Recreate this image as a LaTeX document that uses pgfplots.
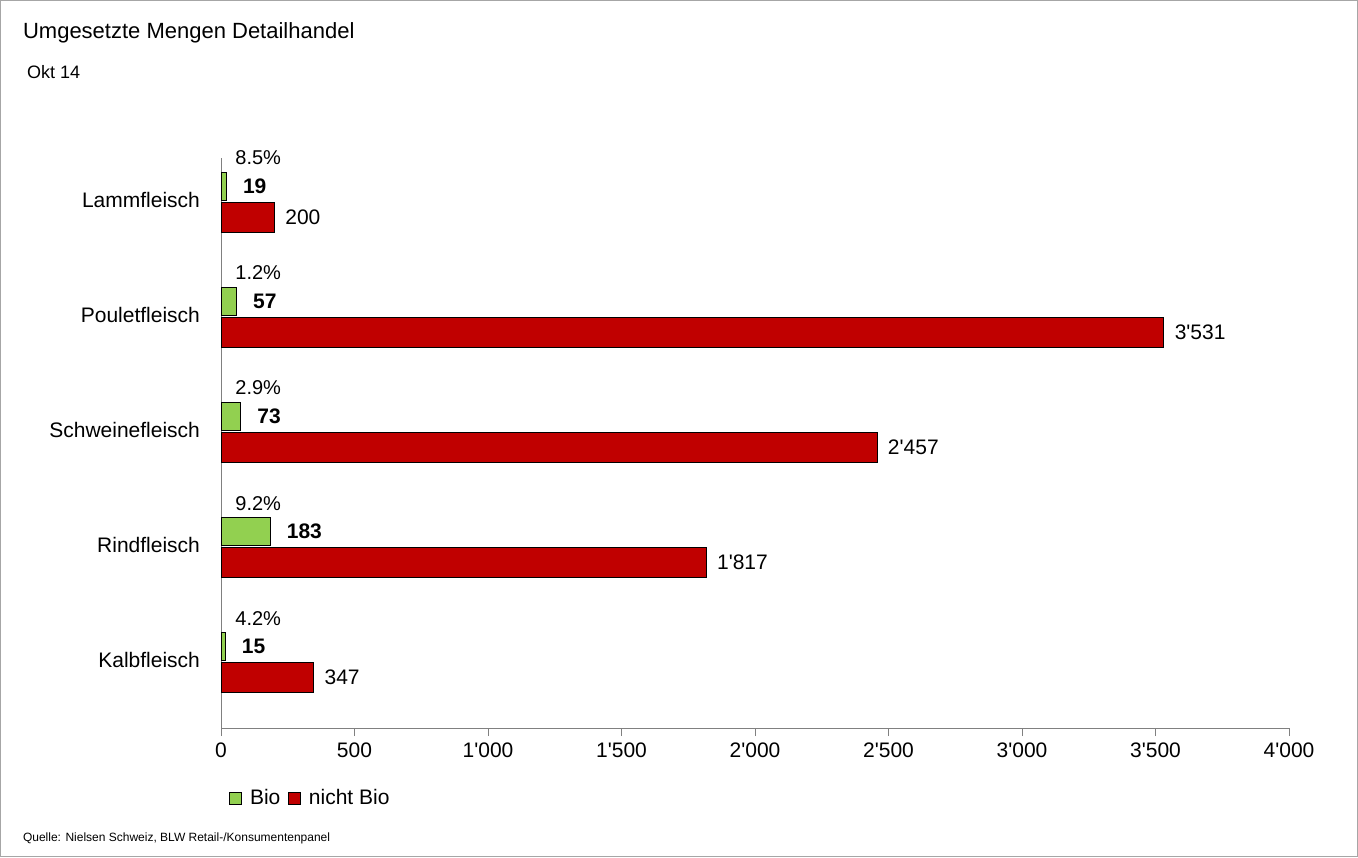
\documentclass[border=0pt]{standalone}
\usepackage{pgfplots}
\pgfplotsset{compat=1.18}
\usepackage{fontspec}
\setmainfont{Liberation Sans}
\definecolor{bio}{RGB}{146,208,80}
\definecolor{nbio}{RGB}{192,0,0}
\begin{document}
\begin{tikzpicture}[font=\fontsize{10.5}{12}\selectfont]
\useasboundingbox (0,0) rectangle (679pt,-428.5pt);
\draw[gray!70,line width=0.6pt] (0.3pt,-0.3pt) rectangle (678.7pt,-428.2pt);
\node[anchor=west,font=\fontsize{11}{13}\selectfont] at (8pt,-16.5pt) {Umgesetzte Mengen Detailhandel};
\node[anchor=west,font=\fontsize{9}{11}\selectfont] at (10pt,-36pt) {Okt 14};
\node[anchor=west,font=\fontsize{6}{7}\selectfont] at (8pt,-419pt) {Quelle: Nielsen Schweiz, BLW Retail-/Konsumentenpanel};
\begin{axis}[
  at={(110.5pt,-364pt)}, anchor=south west,
  width=534pt, height=285pt, scale only axis,
  xmin=0, xmax=4000, ymin=-0.59, ymax=4.365,
  axis lines*=left, axis line style={gray},
  xtick={0,500,...,4000}, xtick style={gray},
  tick align=outside, major tick length=4pt,
  ytick={0,1,2,3,4},
  yticklabels={Kalbfleisch,Rindfleisch,Schweinefleisch,Pouletfleisch,Lammfleisch},
  ytick style={draw=none},
  yticklabel style={xshift=-3pt},
  /pgf/number format/1000 sep={\textquotesingle},
  /pgf/number format/assume math mode=true,
  ticklabel style={font=\fontsize{10.5}{12}\selectfont},
  legend style={at={(0.0075,-0.123)}, anchor=west, draw=none, legend columns=2,
    font=\fontsize{10.5}{12}\selectfont, column sep=2pt, inner sep=0pt},
  legend image code/.code={\draw[#1,draw=black,line width=0.3pt] (0pt,-3pt) rectangle (6pt,3pt);},
  clip=false,
]
\addplot[xbar, bar width=14pt, fill=bio, draw=black, line width=0.3pt,
  nodes near coords, point meta=explicit symbolic,
  every node near coord/.append style={anchor=west, xshift=5pt, font=\fontsize{10.5}{12}\selectfont\bfseries}]
  coordinates {(19,4.12)[19] (57,3.12)[57] (73,2.12)[73] (183,1.12)[183] (15,0.12)[15]};
\addlegendentry{Bio}
\addplot[xbar, bar width=15pt, fill=nbio, draw=black, line width=0.3pt,
  nodes near coords, point meta=explicit symbolic,
  every node near coord/.append style={anchor=west, xshift=2pt, font=\fontsize{10.5}{12}\selectfont}]
  coordinates {(200,3.852)[200] (3531,2.852)[3\textquotesingle 531] (2457,1.852)[2\textquotesingle 457] (1817,0.852)[1\textquotesingle 817] (347,-0.148)[347]};
\addlegendentry{nicht Bio}
\addplot[draw=none, mark=none, forget plot,
  nodes near coords, point meta=explicit symbolic,
  every node near coord/.append style={anchor=west, xshift=1pt, font=\fontsize{10}{11}\selectfont}]
  coordinates {(20,4.365)[8.5\%] (20,3.365)[1.2\%] (20,2.365)[2.9\%] (20,1.365)[9.2\%] (20,0.365)[4.2\%]};
\end{axis}
\end{tikzpicture}
\end{document}
